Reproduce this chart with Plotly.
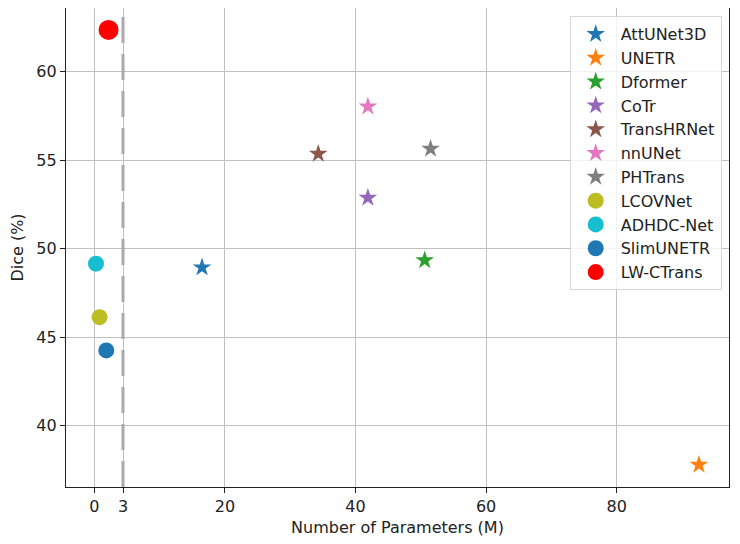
import plotly.graph_objects as go

# ---- data ----
star_models = ["AttUNet3D", "UNETR", "Dformer", "CoTr", "TransHRNet", "nnUNet", "PHTrans"]
star_params = [16.5, 92.6, 50.6, 41.9, 34.3, 41.9, 51.5]
star_dice = [48.94, 37.78, 49.34, 52.87, 55.36, 58.03, 55.64]
star_colors = ["#1f77b4", "#ff7f0e", "#2ca02c", "#9467bd", "#8c564b", "#e377c2", "#7f7f7f"]

circle_models = ["LCOVNet", "ADHDC-Net", "SlimUNETR", "LW-CTrans"]
circle_params = [0.81, 0.26, 1.84, 2.19]
circle_dice = [46.13, 49.15, 44.25, 62.36]
circle_colors = ["#bcbd22", "#17becf", "#1f77b4", "#ff0000"]
circle_sizes = [16, 16, 16, 20]

threshold_pos = 4.4
x_tickvals = [0, threshold_pos, 20, 40, 60, 80]
x_ticktext = ["0", "3", "20", "40", "60", "80"]
y_tickvals = [40, 45, 50, 55, 60]

fig = go.Figure()
for name, x, y, c in zip(star_models, star_params, star_dice, star_colors):
    fig.add_trace(go.Scatter(x=[x], y=[y], mode="markers", name=name,
                             marker=dict(symbol="star", size=14, color=c, line=dict(width=0))))
for name, x, y, c, s in zip(circle_models, circle_params, circle_dice, circle_colors, circle_sizes):
    fig.add_trace(go.Scatter(x=[x], y=[y], mode="markers", name=name,
                             marker=dict(symbol="circle", size=s, color=c, line=dict(width=0))))

fig.add_shape(type="line", x0=threshold_pos, x1=threshold_pos, y0=0, y1=1,
              xref="x", yref="paper", layer="above",
              line=dict(color="#aaaaaa", width=3, dash="26px,11px"))

font_family = "DejaVu Sans"
fig.update_layout(
    width=732, height=536,
    margin=dict(l=58, r=11, t=0, b=57),
    paper_bgcolor="white", plot_bgcolor="white",
    font=dict(family=font_family, size=16, color="#222222"),
    showlegend=True,
    legend=dict(x=0.989, y=0.983, xanchor="right", yanchor="top",
                bgcolor="rgba(255,255,255,0.8)", bordercolor="#d8d8d8", borderwidth=1,
                font=dict(size=16, family=font_family), tracegroupgap=0, itemwidth=40),
    xaxis=dict(range=[-4.33, 97.2], tickvals=x_tickvals, ticktext=x_ticktext,
               showgrid=True, gridcolor="#c0c0c0", gridwidth=1,
               showline=True, linecolor="#222222", linewidth=1.3, mirror=True,
               ticks="outside", ticklen=5, tickcolor="#222222", zeroline=False,
               tickfont=dict(size=16),
               title=dict(text="Number of Parameters (M)", standoff=6, font=dict(size=16))),
    yaxis=dict(range=[36.53, 63.6], tickvals=y_tickvals,
               showgrid=True, gridcolor="#c0c0c0", gridwidth=1,
               showline=True, linecolor="#222222", linewidth=1.3, mirror=True,
               ticks="outside", ticklen=5, tickcolor="#222222", zeroline=False,
               tickfont=dict(size=16),
               title=dict(text="Dice (%)", standoff=8, font=dict(size=16))),
)

fig.write_html("out.html")
